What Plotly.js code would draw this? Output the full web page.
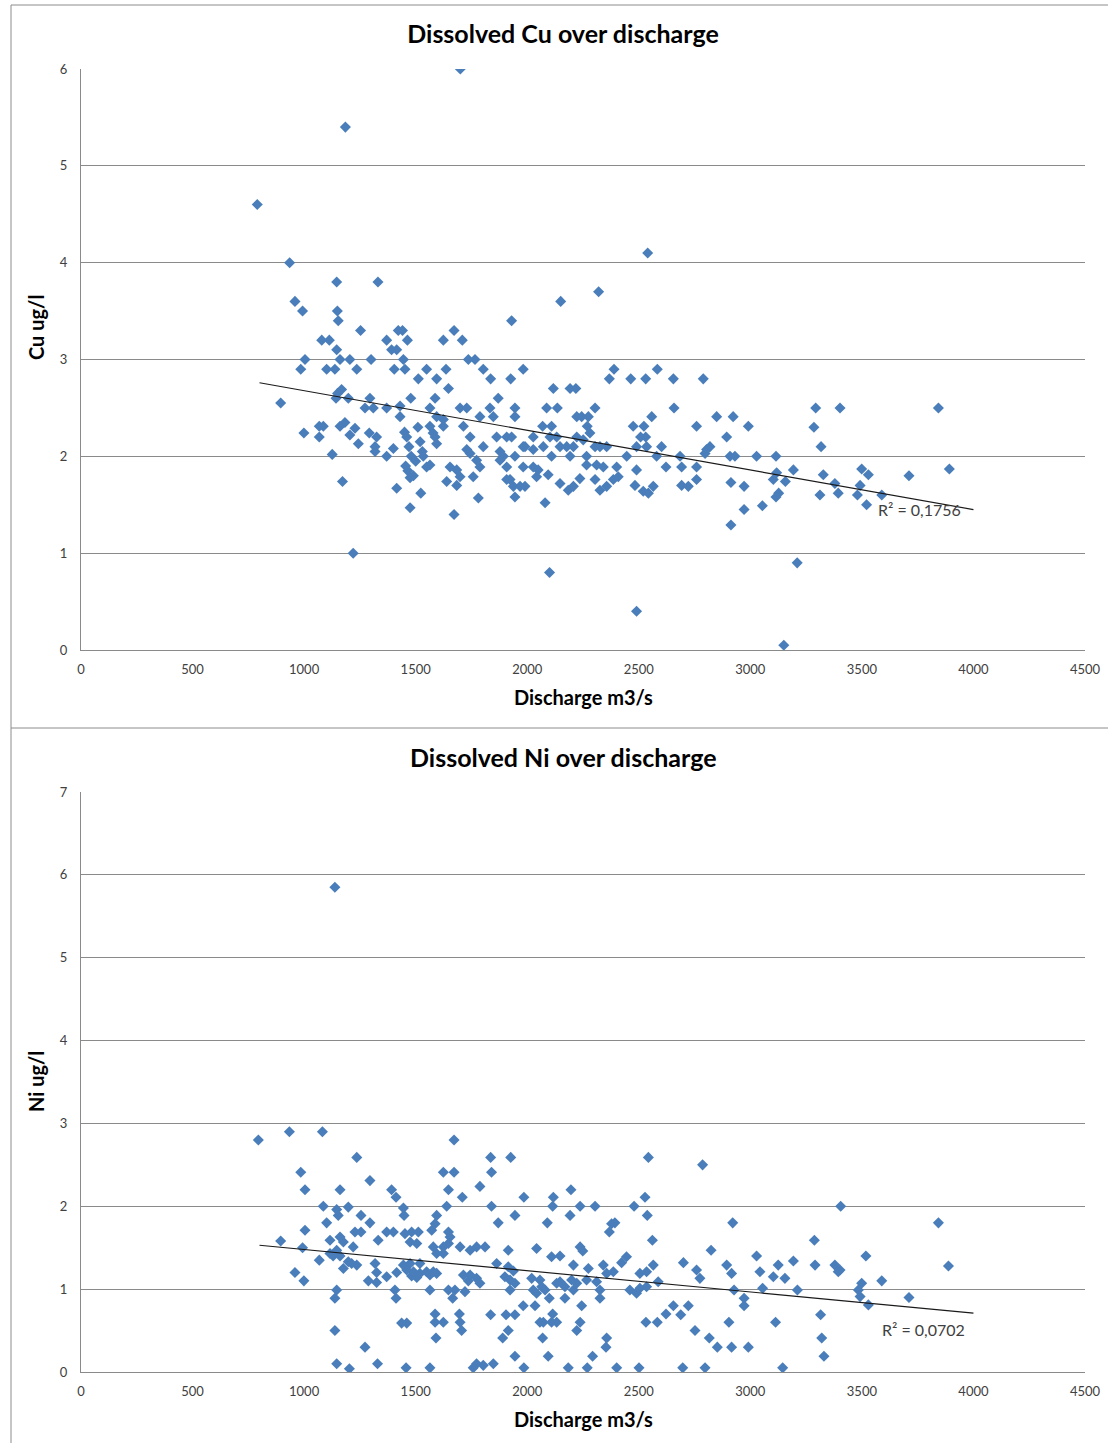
<!DOCTYPE html>
<html>
<head>
<meta charset="utf-8">
<script src="https://cdn.plot.ly/plotly-3.0.1.min.js"></script>
<style>
  html, body { margin: 0; padding: 0; background: #ffffff; }
  #chart { width: 1108px; height: 1443px; }
</style>
</head>
<body>
<div id="chart"></div>
<script>
// ---------- DATA ----------
var cuTitle = "Dissolved Cu over discharge";
var niTitle = "Dissolved Ni over discharge";
var xTitle = "Discharge m3/s";
var cuAxisTitle = "Cu ug/l";
var niAxisTitle = "Ni ug/l";
var xTickValues = [0, 500, 1000, 1500, 2000, 2500, 3000, 3500, 4000, 4500];
var cuTickValues = [0, 1, 2, 3, 4, 5, 6];
var niTickValues = [0, 1, 2, 3, 4, 5, 6, 7];
var cuR2Label = "R\u00b2 = 0,1756";
var niR2Label = "R\u00b2 = 0,0702";

// [discharge m3/s, dissolved Cu ug/l]
var cuPoints = [
  [790,4.6],[935,4.0],[1185,5.4],[1700,6.0],[2540,4.1],[1220,1.0],[2100,0.8],[2490,0.4],[3150,0.05],[3210,0.9],
  [2320,3.7],[2150,3.6],[1930,3.4],[895,2.55],
  [1146,3.8],[1331,3.8],[959,3.6],[993,3.5],[1149,3.5],[1153,3.4],[1253,3.3],[1422,3.3],[1441,3.3],[1672,3.3],
  [1079,3.2],[1113,3.2],[1370,3.2],[1463,3.2],[1624,3.2],[1709,3.2],[1146,3.1],[1392,3.1],[1415,3.1],
  [1004,3.0],[1161,3.0],[1205,3.0],[1300,3.0],[1445,3.0],[1736,3.0],[1766,3.0],
  [985,2.9],[1101,2.9],[1138,2.9],[1236,2.9],[1404,2.9],[1452,2.9],[1549,2.9],[1636,2.9],[1803,2.9],[1982,2.9],
  [1512,2.8],[1594,2.8],[1836,2.8],[1926,2.8],[1647,2.7],[1168,2.69],[1143,2.6],[1150,2.65],[1198,2.6],[1295,2.6],
  [1478,2.6],[1587,2.6],[1870,2.6],[1273,2.5],[1310,2.5],[1370,2.5],[1430,2.52],[1564,2.5],[1699,2.5],[1729,2.5],
  [1833,2.5],[1945,2.5],[1430,2.41],[1594,2.41],[1624,2.38],[1788,2.41],[1848,2.41],[1945,2.41],
  [999,2.24],[1068,2.31],[1086,2.31],[1068,2.2],[1161,2.31],[1183,2.35],[1205,2.22],[1228,2.29],[1243,2.13],
  [1292,2.24],[1325,2.2],[1318,2.1],[1318,2.05],[1126,2.02],[1172,1.74],[1370,2.0],[1400,2.08],[1415,1.67],
  [1475,1.47],[1523,1.62],[1639,1.74],[1684,1.7],[1672,1.4],[1781,1.57],[1923,1.76],[1938,1.69],[1945,1.58],
  [1450,2.25],[1460,2.2],[1470,2.1],[1480,2.0],[1455,1.9],[1465,1.85],[1490,1.8],[1500,1.95],[1510,2.3],
  [1520,2.15],[1475,1.78],[1530,2.05],
  [1564,2.31],[1578,2.24],[1624,2.31],[1534,2.0],[1564,1.91],[1549,1.89],[1587,2.2],[1594,2.13],[1654,1.89],
  [1684,1.86],[1699,1.79],[1714,2.31],[1744,2.2],[1729,2.07],[1744,2.03],[1773,1.96],[1788,1.89],[1758,1.79],
  [1803,2.1],[1863,2.2],[1878,2.05],[1893,2.0],[1908,1.89],[1930,2.2],[1982,2.1],[1982,1.89],[1878,1.96],[1968,1.69],
  [2117,2.7],[2192,2.7],[2218,2.7],[2389,2.9],[2368,2.8],[2464,2.8],[2531,2.8],[2583,2.9],[2655,2.8],[2789,2.8],
  [2087,2.5],[2135,2.5],[2222,2.41],[2244,2.41],[2274,2.41],[2304,2.5],[2069,2.31],[2109,2.31],[2269,2.31],
  [2558,2.41],[2658,2.5],[2475,2.31],[2523,2.31],[2508,2.2],[2531,2.2],[2759,2.31],[2849,2.41],[2923,2.41],
  [2991,2.31],[2894,2.2],[1908,2.2],[2027,2.2],[1990,2.1],[2027,2.07],[2072,2.1],[2102,2.2],[2132,2.2],
  [2147,2.1],[2177,2.1],[2207,2.1],[2222,2.2],[2251,2.17],[2281,2.24],[2304,2.1],[2326,2.1],[2356,2.1],
  [2490,2.1],[2535,2.1],[2602,2.1],[1945,2.0],[2109,2.0],[2192,2.0],[2266,2.0],[2446,2.0],[2580,2.0],[2685,2.0],
  [2804,2.07],[2819,2.1],[2909,2.0],[2931,2.0],[3028,2.0],[3115,2.0],[2027,1.89],[2049,1.86],[2094,1.81],
  [2042,1.79],[1908,1.76],[1990,1.69],[2080,1.52],[2147,1.72],[2184,1.65],[2207,1.69],[2236,1.77],[2266,1.91],
  [2311,1.91],[2341,1.89],[2401,1.89],[2304,1.76],[2326,1.65],[2356,1.69],[2386,1.76],[2408,1.79],[2490,1.86],
  [2483,1.7],[2520,1.64],[2543,1.62],[2565,1.69],[2622,1.89],[2692,1.89],[2759,1.89],[2692,1.7],[2722,1.69],
  [2759,1.76],[2797,2.03],[2913,1.73],[2972,1.69],[2972,1.45],[2913,1.29],[3054,1.49],[3115,1.58],[3127,1.62],
  [3103,1.76],[3118,1.83],[3157,1.74],[3193,1.86],
  [3293,2.5],[3402,2.5],[3285,2.3],[3317,2.1],[3843,2.5],[3327,1.81],[3312,1.6],[3379,1.72],[3394,1.62],
  [3499,1.87],[3529,1.81],[3492,1.7],[3480,1.6],[3521,1.5],[3589,1.6],[3711,1.8],[3892,1.87]
];

// [discharge m3/s, dissolved Ni ug/l]
var niPoints = [
  [1138,5.85],[795,2.8],[934,2.9],[1082,2.9],[1236,2.59],[1672,2.8],[1836,2.59],[1926,2.59],[2543,2.59],[2786,2.5],
  [985,2.41],[1004,2.2],[1161,2.2],[1295,2.31],[1392,2.2],[1412,2.11],[1624,2.41],[1672,2.41],[1647,2.2],[1709,2.11],
  [1788,2.24],[1840,2.41],[1985,2.11],[2117,2.11],[1086,2.0],[1146,1.96],[1153,1.89],[1198,1.99],[1255,1.89],
  [1445,1.98],[1448,1.89],[1594,1.89],[1639,2.0],[1840,2.0],[1945,1.89],[2114,2.0],[1101,1.8],[1295,1.8],
  [1587,1.79],[1572,1.71],[1870,1.8],[2090,1.8],[1004,1.71],[895,1.58],[993,1.5],[1116,1.59],[1161,1.63],
  [1176,1.57],[1228,1.69],[1255,1.69],[1220,1.51],[1332,1.59],[1370,1.69],[1400,1.69],[1452,1.67],[1482,1.69],
  [1512,1.69],[1475,1.57],[1505,1.55],[1647,1.69],[1654,1.63],[1579,1.51],[1624,1.51],[1647,1.55],[1699,1.51],
  [1744,1.47],[1773,1.51],[1811,1.51],[1915,1.47],[2042,1.49],[2109,1.39],[959,1.2],[999,1.1],[1068,1.35],
  [1116,1.43],[1146,1.47],[1130,1.4],[1161,1.4],[1198,1.33],[1236,1.29],[1213,1.31],[1176,1.25],[1318,1.31],
  [1325,1.2],[1288,1.1],[1325,1.08],[1370,1.15],[1415,1.2],[1445,1.29],[1460,1.23],[1490,1.21],[1482,1.16],
  [1519,1.19],[1505,1.14],[1549,1.21],[1579,1.21],[1564,1.17],[1594,1.19],[1475,1.31],[1519,1.31],[1564,0.99],
  [1594,1.43],[1624,1.43],[1647,0.99],[1676,0.99],[1666,0.89],[1714,1.17],[1744,1.17],[1736,1.1],[1773,1.13],
  [1788,1.07],[1721,0.97],[1863,1.31],[1900,1.15],[1923,1.11],[1945,1.07],[1923,0.99],[1915,1.27],[1938,1.22],
  [2020,1.13],[2027,0.99],[2042,0.95],[2065,1.03],[2080,0.99],[2099,0.89],[2132,1.07],[1146,0.99],[1138,0.89],
  [1412,0.89],[1407,0.99],[1437,0.59],[1460,0.59],[1587,0.7],[1587,0.6],[1624,0.6],[1591,0.41],[1696,0.7],
  [1699,0.6],[1706,0.5],[1836,0.69],[1905,0.69],[1945,0.69],[1915,0.5],[1890,0.41],[1982,0.8],[2035,0.8],
  [2057,0.6],[2109,0.6],[2069,0.41],[2094,0.19],[1945,0.19],[1138,0.5],[1273,0.3],[1146,0.1],[1203,0.04],
  [1329,0.1],[1457,0.05],[1564,0.05],[1758,0.05],[1773,0.1],[1803,0.08],[1848,0.1],[1985,0.05],
  [2196,2.2],[2304,2.0],[2237,2.0],[2479,2.0],[2528,2.11],[2538,1.89],[2192,1.89],[2393,1.8],[2378,1.79],
  [2368,1.69],[2561,1.59],[2921,1.8],[3287,1.59],[3405,2.0],[2147,1.4],[2237,1.51],[2249,1.46],[2423,1.32],
  [2445,1.39],[2207,1.29],[2274,1.25],[2341,1.29],[2386,1.21],[2356,1.19],[2505,1.19],[2535,1.21],[2565,1.29],
  [2057,1.11],[2147,1.09],[2169,1.03],[2199,1.11],[2207,0.99],[2222,1.07],[2266,1.11],[2311,1.09],[2326,0.99],
  [2326,0.89],[2169,0.89],[2244,0.8],[2460,0.99],[2490,0.95],[2505,1.01],[2535,1.03],[2587,1.09],[2700,1.32],
  [2759,1.23],[2774,1.13],[2824,1.47],[2894,1.29],[2916,1.19],[2927,0.99],[2972,0.89],[2972,0.8],[3028,1.4],
  [3043,1.21],[3055,1.01],[3103,1.15],[3125,1.29],[3155,1.13],[3193,1.34],[3211,0.99],[3290,1.29],[3379,1.29],
  [3394,1.21],[3484,0.99],[3499,1.07],[3529,0.81],[3518,1.4],[2114,0.7],[2132,0.6],[2072,0.6],[2237,0.6],
  [2222,0.5],[2293,0.19],[2353,0.3],[2356,0.41],[2532,0.6],[2583,0.6],[2622,0.7],[2655,0.8],[2688,0.69],
  [2722,0.8],[2752,0.5],[2816,0.41],[2852,0.3],[2916,0.3],[2991,0.3],[2904,0.6],[3113,0.6],[3315,0.69],
  [3320,0.41],[3330,0.19],[2184,0.05],[2269,0.05],[2401,0.05],[2501,0.05],[2697,0.05],[2797,0.05],[3145,0.05],
  [3843,1.8],[3888,1.28],[3589,1.1],[3492,0.91],[3711,0.9],[3402,1.23]
];

// linear trendlines (end points)
var cuTrendX = [800, 4000];
var cuTrendY = [2.76, 1.45];
var niTrendX = [800, 4000];
var niTrendY = [1.53, 0.71];

// ---------- STYLE ----------
var W = 1108, H = 1443;
var FAM = "Lato, 'Open Sans', sans-serif";
var markerColor = "#4a7ebb";
var gridColor = "#8a8a8a";
var tickFont = {family: FAM, size: 13, color: "#404040"};
var titleFont = {family: FAM, size: 25, color: "#000000", weight: "bold"};
var axTitleFont = {family: FAM, size: 20, color: "#000000", weight: "bold"};
var r2Font = {family: FAM, size: 16, color: "#404040"};

function col(arr, i) { return arr.map(function (p) { return p[i]; }); }
function px(x) { return x / W; }
function py(y) { return 1 - y / H; }

var traces = [
  {x: col(cuPoints, 0), y: col(cuPoints, 1), type: "scatter", mode: "markers", name: "Cu",
   xaxis: "x", yaxis: "y",
   marker: {symbol: "diamond", size: 8.5, color: markerColor, line: {width: 0}}},
  {x: cuTrendX, y: cuTrendY, type: "scatter", mode: "lines", name: "Cu trend",
   xaxis: "x", yaxis: "y", line: {color: "#1a1a1a", width: 1.2}},
  {x: col(niPoints, 0), y: col(niPoints, 1), type: "scatter", mode: "markers", name: "Ni",
   xaxis: "x2", yaxis: "y2",
   marker: {symbol: "diamond", size: 8.5, color: markerColor, line: {width: 0}}},
  {x: niTrendX, y: niTrendY, type: "scatter", mode: "lines", name: "Ni trend",
   xaxis: "x2", yaxis: "y2", line: {color: "#1a1a1a", width: 1.2}}
];

function xAxis(anchor) {
  return {
    domain: [px(81), px(1085)], anchor: anchor, range: [0, 4500],
    tickmode: "array", tickvals: xTickValues, ticktext: xTickValues.map(String),
    showgrid: false, zeroline: false, showline: true, linecolor: gridColor, linewidth: 1,
    ticks: "", tickfont: tickFont, ticklabelstandoff: 7, automargin: false
  };
}
function yAxis(anchor, dom, maxv, ticks) {
  return {
    domain: dom, anchor: anchor, range: [0, maxv],
    tickmode: "array", tickvals: ticks, ticktext: ticks.map(String),
    showgrid: true, gridcolor: gridColor, gridwidth: 1, zeroline: false,
    showline: true, linecolor: gridColor, linewidth: 1,
    ticks: "", tickfont: tickFont, ticklabelstandoff: 10, automargin: false
  };
}

function label(text, font, cx, cy, angle) {
  return {text: text, font: font, xref: "paper", yref: "paper", x: px(cx), y: py(cy),
          xanchor: "center", yanchor: "middle", showarrow: false, textangle: angle || 0};
}

var frameColor = "#8c8c8c";
var layout = {
  width: W, height: H,
  margin: {l: 0, r: 0, t: 0, b: 0},
  paper_bgcolor: "#ffffff", plot_bgcolor: "#ffffff",
  showlegend: false,
  title: {text: cuTitle, font: titleFont, x: px(563), xanchor: "center", y: py(34), yanchor: "middle"},
  xaxis: xAxis("y"),
  yaxis: yAxis("x", [py(650), py(69)], 6, cuTickValues),
  xaxis2: xAxis("y2"),
  yaxis2: yAxis("x2", [py(1372), py(792)], 7, niTickValues),
  annotations: [
    label(niTitle, titleFont, 563, 757),
    label(xTitle, axTitleFont, 583, 697),
    label(xTitle, axTitleFont, 583, 1419),
    label(cuAxisTitle, axTitleFont, 36, 328, -90),
    label(niAxisTitle, axTitleFont, 36, 1082, -90),
    {text: cuR2Label, font: r2Font, xref: "x", yref: "y", x: 3563, y: 1.456,
     xanchor: "left", yanchor: "middle", showarrow: false},
    {text: niR2Label, font: r2Font, xref: "x2", yref: "y2", x: 3581, y: 0.519,
     xanchor: "left", yanchor: "middle", showarrow: false}
  ],
  shapes: [
    {type: "line", xref: "paper", yref: "paper", x0: px(11), x1: 1, y0: py(5), y1: py(5),
     line: {color: frameColor, width: 1}},
    {type: "line", xref: "paper", yref: "paper", x0: px(11), x1: px(11), y0: 0, y1: py(5),
     line: {color: frameColor, width: 1}},
    {type: "line", xref: "paper", yref: "paper", x0: px(11), x1: 1, y0: py(728), y1: py(728),
     line: {color: frameColor, width: 1}}
  ]
};

Plotly.newPlot("chart", traces, layout, {displayModeBar: false, staticPlot: true});
</script>
</body>
</html>
